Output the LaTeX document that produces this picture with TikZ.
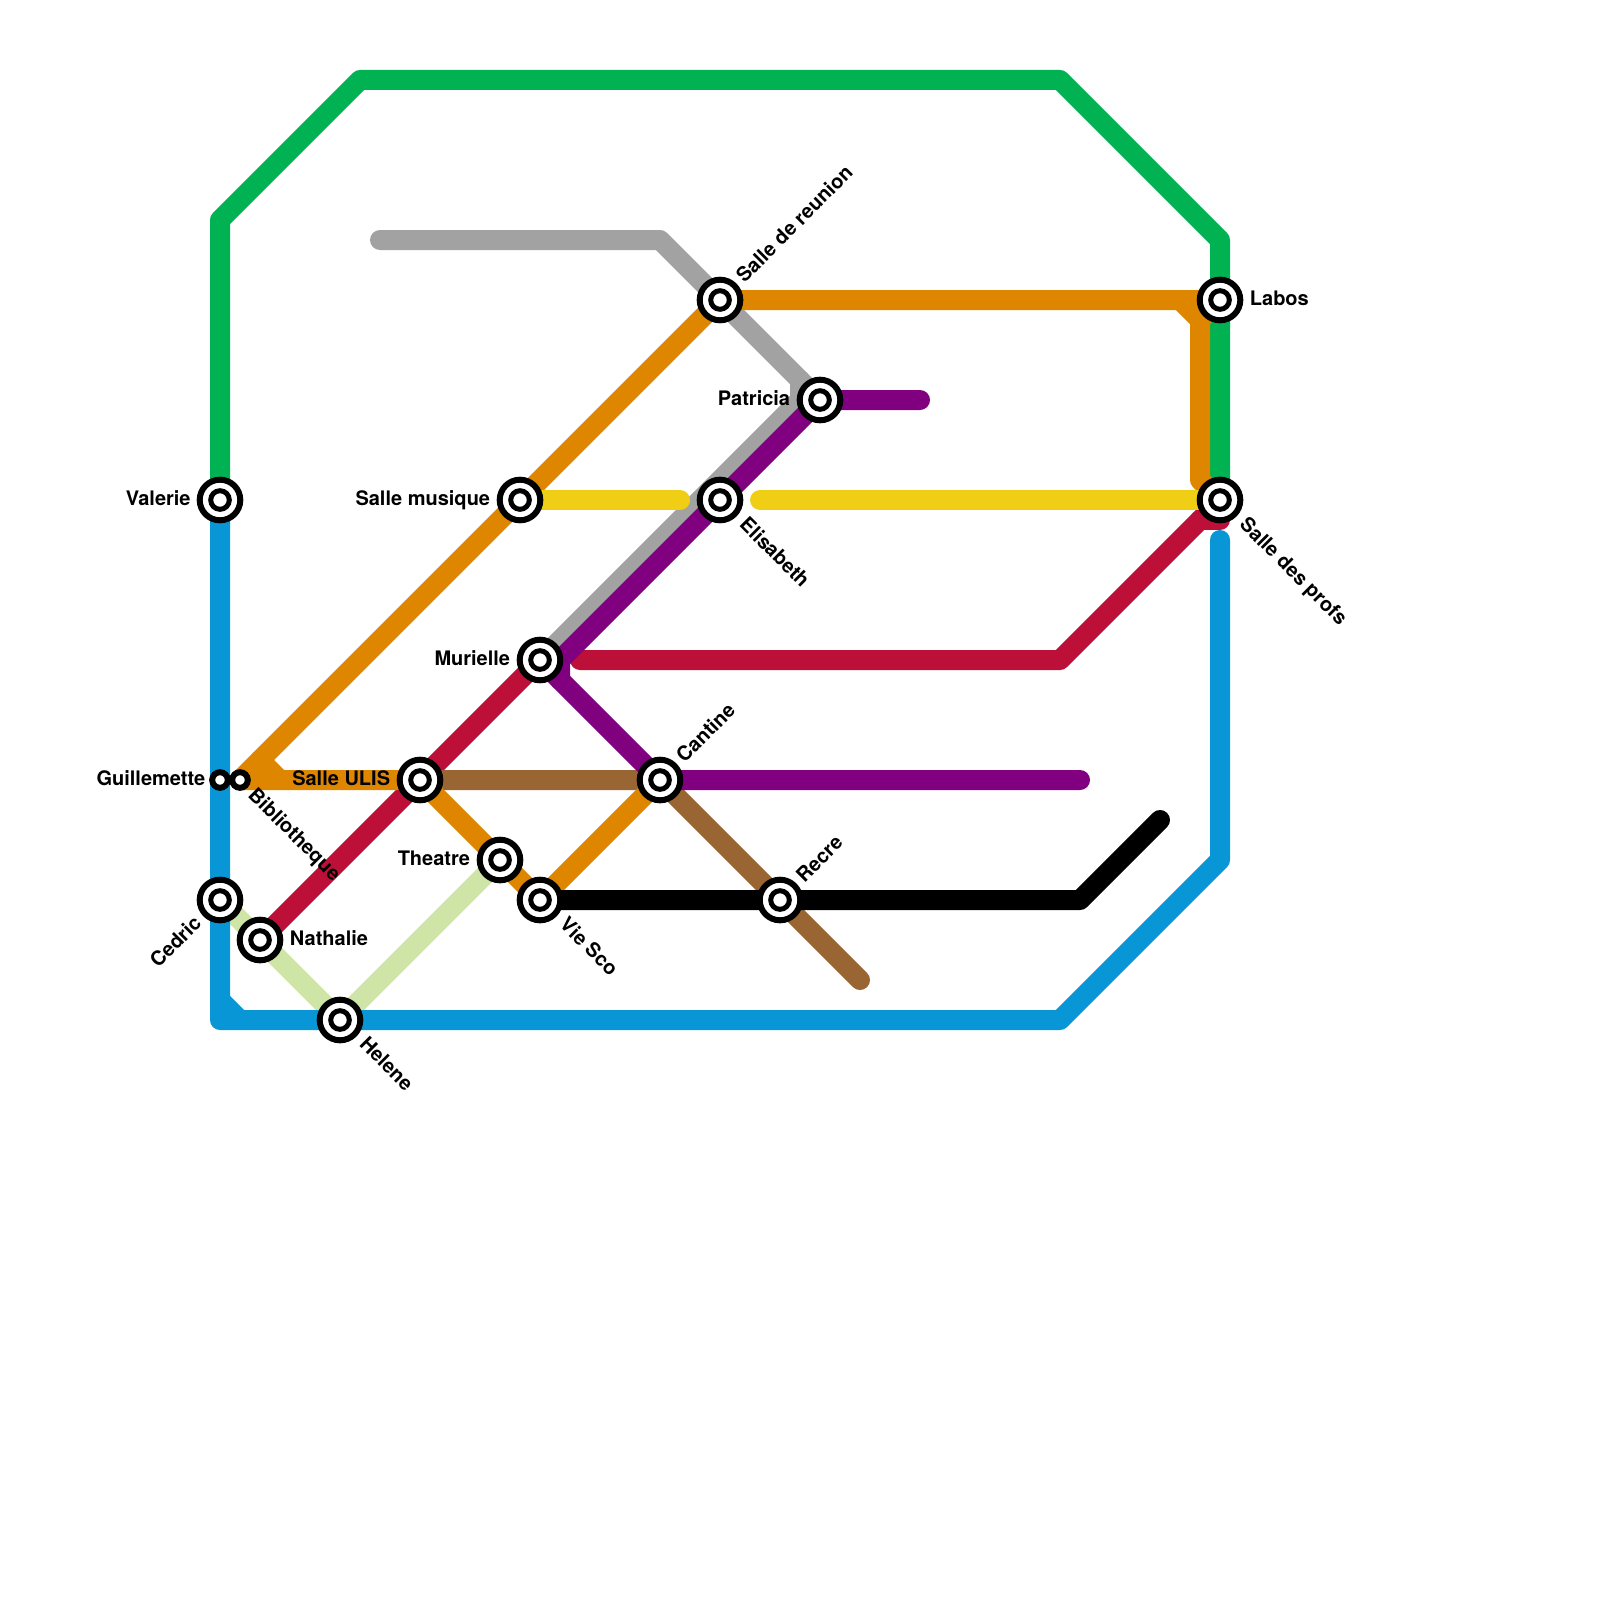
\documentclass[tikz,border=0pt]{standalone}
\usepackage{fontspec}
\setmainfont{TeX Gyre Heros}
\usetikzlibrary{positioning,backgrounds}
\definecolor{mgreen}{HTML}{00B251}
\definecolor{mblue}{HTML}{0896D7}
\definecolor{morange}{HTML}{DF8600}
\definecolor{mred}{HTML}{BD1038}
\definecolor{mpurple}{HTML}{800080}
\definecolor{mgray}{HTML}{A2A2A2}
\definecolor{myellow}{HTML}{F0CE15}
\definecolor{mbrown}{HTML}{996633}
\definecolor{mlime}{HTML}{CFE5A8}

\begin{document}
\begin{tikzpicture}[
    x=.5pt, y=-.5pt,
    metro/.style={line width=10pt, line cap=round, line join=round},
    minor/.style={circle, draw, fill=white, line width=3pt, minimum size=7.8pt, inner sep=0pt, outer sep=0pt},
    station/.style={minor, minimum size=20.3pt,
      path picture={\draw[line width=2.5pt] (path picture bounding box.center) circle (4.65pt);}},
    lbl/.style={inner sep=0pt, text height=7.2pt, text depth=2pt, font=\fontsize{10}{12}\selectfont\bfseries},
    uplbl/.style={lbl, text depth=0pt, rotate=45, anchor=west},
    dnlbl/.style={lbl, text depth=0pt, rotate=-45, anchor=west}]
  \useasboundingbox (0,0) rectangle (1600,1600);
  % stations
  \node[station] (valerie) at (220,500) {};
  \node[minor] (guillemette) at (220,780) {};
  \node[minor] (biblio) at (240,780) {};
  \node[station] (cedric) at (220,900) {};
  \node[station] (nathalie) at (260,940) {};
  \node[station] (helene) at (340,1020) {};
  \node[station] (ulis) at (420,780) {};
  \node[station] (theatre) at (500,860) {};
  \node[station] (viesco) at (540,900) {};
  \node[station] (murielle) at (540,660) {};
  \node[station] (cantine) at (660,780) {};
  \node[station] (recre) at (780,900) {};
  \node[station] (musique) at (520,500) {};
  \node[station] (elisabeth) at (720,500) {};
  \node[station] (reunion) at (720,300) {};
  \node[station] (patricia) at (820,400) {};
  \node[station] (labos) at (1220,300) {};
  \node[station] (profs) at (1220,500) {};
  % bends and line ends
  \coordinate (g1) at (220,220);
  \coordinate (g2) at (360,80);
  \coordinate (g3) at (1060,80);
  \coordinate (g4) at (1220,240);
  \coordinate (b1) at (220,1020);
  \coordinate (b2) at (220,1000);
  \coordinate (b3) at (240,1020);
  \coordinate (b4) at (1060,1020);
  \coordinate (b5) at (1220,860);
  \coordinate (b6) at (1220,540);
  \coordinate (o1) at (260,760);
  \coordinate (o2) at (280,780);
  \coordinate (o3) at (1180,300);
  \coordinate (o4) at (1200,320);
  \coordinate (o5) at (1200,480);
  \coordinate (r1) at (580,660);
  \coordinate (r2) at (1060,660);
  \coordinate (r3) at (1200,520);
  \coordinate (r4) at (1220,520);
  \coordinate (p1) at (920,400);
  \coordinate (p2) at (560,660);
  \coordinate (p3) at (560,680);
  \coordinate (p4) at (1080,780);
  \coordinate (s1) at (380,240);
  \coordinate (s2) at (660,240);
  \coordinate (s3) at (800,380);
  \coordinate (s4) at (800,400);
  \coordinate (y1) at (680,500);
  \coordinate (y2) at (760,500);
  \coordinate (k1) at (860,980);
  \coordinate (z1) at (1080,900);
  \coordinate (z2) at (1160,820);
  \begin{pgfonlayer}{background}
    \draw[metro, mlime] (cedric.center) -- (helene.center) -- (theatre.center);
    \draw[metro, mgreen] (valerie.center) -- (g1) -- (g2) -- (g3) -- (g4) -- (profs.center);
    \draw[metro, mblue] (valerie.center) -- (b1) -- (b4) -- (b5) -- (b6);
    \draw[metro, mblue] (b2) -- (b3);
    \draw[metro, mgray] (s1) -- (s2) -- (s3) -- (s4) -- (murielle.center);
    \draw[metro, mgray] (s3) -- (patricia.center);
    \draw[metro, mred] (nathalie.center) -- (murielle.center);
    \draw[metro, mred] (r1) -- (r2) -- (profs.center);
    \draw[metro, mred] (r3) -- (r4) -- (profs.center);
    \draw[metro, mbrown] (ulis.center) -- (cantine.center) -- (k1);
    \draw[metro, morange] (ulis.center) -- (biblio.center) -- (reunion.center) -- (labos.center) -- (o4) -- (o5) -- (profs.center);
    \draw[metro, morange] (o1) -- (o2);
    \draw[metro, morange] (o3) -- (o4);
    \draw[metro, morange] (ulis.center) -- (viesco.center) -- (cantine.center);
    \draw[metro, mpurple] (p1) -- (patricia.center) -- (p2) -- (p3);
    \draw[metro, mpurple] (murielle.center) -- (cantine.center) -- (p4);
    \draw[metro, myellow] (musique.center) -- (y1);
    \draw[metro, myellow] (y2) -- (profs.center);
    \draw[metro, black] (viesco.center) -- (z1) -- (z2);
  \end{pgfonlayer}
  % labels
  \node[lbl, left=4.35pt of valerie] (valerielbl) {Valerie};
  \node[lbl, left=3.25pt of guillemette] (guillemettelbl) {Guillemette};
  \node[lbl, left=4.6pt of musique] (musiquelbl) {Salle musique};
  \node[lbl, left=4.6pt of murielle] (muriellelbl) {Murielle};
  \node[lbl, left=4.6pt of ulis] (ulislbl) {Salle ULIS};
  \node[lbl, left=4.6pt of theatre] (theatrelbl) {Theatre};
  \node[lbl, left=4.6pt of patricia] (patricialbl) {Patricia};
  \node[lbl, right=4.6pt of nathalie] (nathalielbl) {Nathalie};
  \node[lbl, right=4.6pt of labos] (laboslbl) {Labos};
  \node[uplbl, anchor=east] (cedriclbl) at ([shift={(-8,5)}]cedric.225) {Cedric};
  \node[uplbl] (reunionlbl) at ([shift={(5,-7)}]reunion.45) {Salle de reunion};
  \node[uplbl] (cantinelbl) at ([shift={(5,-7)}]cantine.45) {Cantine};
  \node[uplbl] (recrelbl) at ([shift={(5,-7)}]recre.45) {Recre};
  \node[dnlbl] (elisabethlbl) at ([shift={(9,6)}]elisabeth.-45) {Elisabeth};
  \node[dnlbl] (profslbl) at ([shift={(9,6)}]profs.-45) {Salle des profs};
  \node[dnlbl] (bibliolbl) at ([shift={(6.4,5.4)}]biblio.-45) {Bibliotheque};
  \node[dnlbl] (viescolbl) at ([shift={(9,6)}]viesco.-45) {Vie Sco};
  \node[dnlbl] (helenelbl) at ([shift={(9,6)}]helene.-45) {Helene};
\end{tikzpicture}
\end{document}
